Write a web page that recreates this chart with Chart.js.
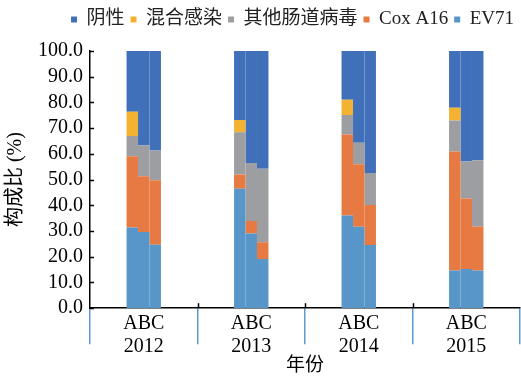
<!DOCTYPE html>
<html>
<head>
<meta charset="utf-8">
<script src="https://cdn.jsdelivr.net/npm/chart.js@4/dist/chart.umd.min.js"></script>
<style>
  body { margin: 0; background: #fff; }
  #wrap { width: 521px; height: 384px; }
</style>
</head>
<body>
<div id="wrap"><canvas id="chart" width="521" height="384"></canvas></div>
<script>
// categories
const years = ['2012', '2013', '2014', '2015'];
const groups = ['A', 'B', 'C'];

// composition (%) per year, groups A/B/C
const ev71     = [[31.4, 29.6, 24.7], [46.4, 29.0, 19.1], [36.0, 31.7, 24.6], [14.7, 15.2, 14.7]];
const coxA16   = [[27.7, 21.7, 25.0], [5.6, 4.9, 6.5],    [31.5, 24.3, 15.5], [46.2, 27.5, 17.1]];
const otherEV  = [[7.9, 12.1, 11.6],  [16.4, 22.6, 28.6], [7.6, 8.3, 12.5],   [12.1, 14.3, 25.7]];
const mixed    = [[9.4, 0, 0],        [4.8, 0, 0],        [5.9, 0, 0],        [4.9, 0, 0]];
const negative = [[23.6, 36.6, 38.7], [26.8, 43.5, 45.8], [19.0, 35.7, 47.4], [22.1, 43.0, 42.5]];

const yTicks = [0, 10, 20, 30, 40, 50, 60, 70, 80, 90, 100];

// stacking order bottom -> top
const series = [
    { name: 'EV71', values: ev71, color: '#5895c9' },
    { name: 'Cox A16', values: coxA16, color: '#e67a42' },
    { name: '其他肠道病毒', values: otherEV, color: '#9d9ea1' },
    { name: '混合感染', values: mixed, color: '#f4b233' },
    { name: '阴性', values: negative, color: '#4170ba' }
];

const FONT = "'Liberation Serif', 'Noto Sans CJK SC', serif";

const datasets = [];
series.forEach(s => {
    groups.forEach((g, gi) => {
        datasets.push({
            label: s.name,
            stack: g,
            data: s.values.map(row => row[gi]),
            backgroundColor: s.color,
            borderWidth: 0,
            categoryPercentage: 0.32,
            barPercentage: 1.0
        });
    });
});

// extra room under the legend
const legendGap = {
    id: 'legendGap',
    beforeInit(chart) {
        const fit = chart.legend.fit;
        chart.legend.fit = function () {
            fit.bind(chart.legend)();
            this.height += 12;
        };
    }
};

// inward y ticks and small upward ticks at group boundaries
const axisMarks = {
    id: 'axisMarks',
    afterDraw(chart) {
        const { ctx, scales: { x, y }, chartArea } = chart;
        ctx.save();
        ctx.strokeStyle = '#000';
        ctx.lineWidth = 1.5;
        yTicks.forEach(v => {
            const py = Math.round(y.getPixelForValue(v)) + 0.5;
            ctx.beginPath();
            ctx.moveTo(chartArea.left, py);
            ctx.lineTo(chartArea.left + 4, py);
            ctx.stroke();
        });
        const half = (x.getPixelForValue(1) - x.getPixelForValue(0)) / 2;
        for (let i = 1; i < years.length; i++) {
            const px = Math.round(x.getPixelForValue(i) - half) + 0.5;
            ctx.beginPath();
            ctx.moveTo(px, chartArea.bottom);
            ctx.lineTo(px, chartArea.bottom - 5);
            ctx.stroke();
        }
        ctx.restore();
    }
};

new Chart(document.getElementById('chart'), {
    type: 'bar',
    data: {
        labels: years.map(yr => [groups.join(''), yr]),
        datasets: datasets
    },
    options: {
        responsive: false,
        animation: false,
        layout: { padding: { left: 4, right: 1, top: 4, bottom: 7 } },
        plugins: {
            tooltip: { enabled: false },
            legend: {
                position: 'top',
                align: 'end',
                reverse: true,
                labels: {
                    filter: item => item.datasetIndex % groups.length === 0,
                    boxWidth: 6,
                    boxHeight: 6,
                    padding: 6,
                    color: '#222',
                    font: { family: FONT, size: 19 }
                }
            }
        },
        scales: {
            x: {
                stacked: true,
                border: { color: '#000', width: 1.5 },
                grid: {
                    offset: true,
                    drawOnChartArea: false,
                    color: '#5b9bd5',
                    lineWidth: 1.5,
                    tickLength: 36
                },
                ticks: {
                    padding: -32,
                    color: '#000',
                    maxRotation: 0,
                    font: { family: FONT, size: 20, lineHeight: 1.15 }
                },
                title: {
                    display: true,
                    text: '年份',
                    color: '#000',
                    padding: { top: 28, bottom: 0 },
                    font: { family: FONT, size: 19 }
                }
            },
            y: {
                stacked: true,
                min: 0,
                max: 100,
                border: { color: '#000', width: 1.5 },
                grid: { display: false, drawTicks: false },
                afterBuildTicks: axis => { axis.ticks = yTicks.map(v => ({ value: v })); },
                ticks: {
                    autoSkip: false,
                    padding: 7,
                    color: '#000',
                    font: { family: FONT, size: 20 },
                    callback: v => Number(v).toFixed(1)
                },
                title: {
                    display: true,
                    text: '构成比 (%)',
                    color: '#000',
                    padding: { top: 0, bottom: 3 },
                    font: { family: FONT, size: 20 }
                }
            }
        }
    },
    plugins: [legendGap, axisMarks]
});
</script>
</body>
</html>
